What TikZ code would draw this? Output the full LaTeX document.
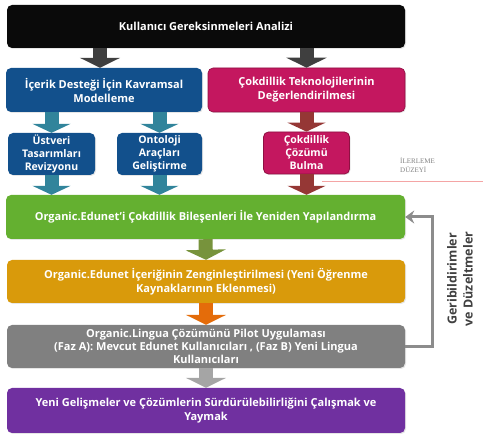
\documentclass[tikz,border=0pt]{standalone}
\usepackage{fontspec}
\setmainfont{Open Sans}
\newfontfamily\serifsmall{Liberation Serif}
\usetikzlibrary{arrows.meta,shadows}
\definecolor{cTop}{HTML}{0A0A0A}
\definecolor{cArrDark}{HTML}{3F3F3F}
\definecolor{cBlue}{HTML}{12508C}
\definecolor{cMag}{HTML}{C4175F}
\definecolor{cMagBd}{HTML}{8E1042}
\definecolor{cTeal}{HTML}{31849B}
\definecolor{cRedArr}{HTML}{953735}
\definecolor{cGreen}{HTML}{64B030}
\definecolor{cOlive}{HTML}{77933C}
\definecolor{cOrange}{HTML}{D99A0B}
\definecolor{cOrArr}{HTML}{E46C0A}
\definecolor{cGray}{HTML}{808080}
\definecolor{cGrayArr}{HTML}{A5A5A5}
\definecolor{cPurple}{HTML}{7030A0}
\definecolor{cFb}{HTML}{8C8C8C}
\definecolor{cLabel}{HTML}{404040}
\definecolor{cRedLine}{HTML}{F4A5A5}
\begin{document}
\begin{tikzpicture}[x=1pt,y=-1pt,
  box/.style={rectangle, rounded corners=5pt, text=white, align=center,
    inner sep=1pt, font=\fontsize{11}{14}\selectfont\bfseries,
    drop shadow={opacity=0.2, shadow xshift=1pt, shadow yshift=-1pt}},
  smallbox/.style={box, font=\fontsize{10.5}{13}\selectfont\bfseries},
  blk/.style={line width=14pt, -{Triangle[width=40pt,length=10pt]}},
  blksm/.style={line width=14pt, -{Triangle[width=38pt,length=9pt]}},
  tinytext/.style={text=gray, font=\serifsmall\fontsize{7}{8.5}\selectfont, inner sep=0pt, anchor=north west},
]
\useasboundingbox (0,0) rectangle (483,435);

% boxes
\node[box, fill=cTop, minimum width=398pt, minimum height=43pt] (top) at (206,26.5)
  {Kullanıcı Gereksinmeleri Analizi};
\node[box, fill=cBlue, minimum width=196pt, minimum height=44pt] (blue) at (104,90)
  {İçerik Desteği İçin Kavramsal\\Modelleme};
\node[box, fill=cMag, draw=cMagBd, line width=0.6pt, minimum width=197pt, minimum height=44pt] (mag) at (306.5,90)
  {Çokdillik Teknolojilerinin\\Değerlendirilmesi};
\node[smallbox, fill=cBlue, minimum width=87pt, minimum height=42pt] (ust) at (51.5,154)
  {Üstveri\\Tasarımları\\Revizyonu};
\node[smallbox, fill=cBlue, minimum width=85pt, minimum height=42pt] (ont) at (159.5,154)
  {Ontoloji\\Araçları\\Geliştirme};
\node[smallbox, fill=cMag, draw=cMagBd, line width=0.8pt, minimum width=86pt, minimum height=42pt] (cok) at (306.5,153)
  {Çokdillik\\Çözümü\\Bulma};
\node[box, fill=cGreen, minimum width=399pt, minimum height=44pt] (green) at (205.5,217)
  {Organic.Edunet’i Çokdillik Bileşenleri İle Yeniden Yapılandırma};
\node[box, fill=cOrange, minimum width=398pt, minimum height=43pt] (orange) at (206,281.5)
  {Organic.Edunet İçeriğinin Zenginleştirilmesi (Yeni Öğrenme\\Kaynaklarının Eklenmesi)};
\node[box, fill=cGray, minimum width=398pt, minimum height=43pt, font=\fontsize{11}{13}\selectfont\bfseries] (gray) at (206,346.5)
  {Organic.Lingua Çözümünü Pilot Uygulaması\\(Faz A): Mevcut Edunet Kullanıcıları , (Faz B) Yeni Lingua\\Kullanıcıları};
\node[box, fill=cPurple, minimum width=398pt, minimum height=45pt] (purple) at (206,410.5)
  {Yeni Gelişmeler ve Çözümlerin Sürdürülebilirliğini Çalışmak ve\\Yaymak};

% block arrows
\draw[blk, cArrDark] (top.south -| 100,0) -- (blue.north -| 100,0);
\draw[blk, cArrDark] (top.south -| mag.north) -- (mag.north);
\draw[blksm, cTeal] (blue.south -| ust.north) -- (ust.north);
\draw[blksm, cTeal] (blue.south -| ont.north) -- (ont.north);
\draw[blksm, cRedArr] (mag.south) -- (cok.north);
\draw[blksm, cTeal] (ust.south) -- (green.north -| ust.south);
\draw[blksm, cTeal] (ont.south) -- (green.north -| ont.south);
\draw[blksm, cRedArr] (cok.south) -- (green.north -| cok.south);
\draw[blk, cOlive] (green.south) -- (orange.north);
\draw[blk, cOrArr] (orange.south) -- (gray.north);
\draw[blk, cGrayArr] (gray.south) -- (purple.north);

% feedback loop
\coordinate (fbx) at (432,0);
\draw[cFb, line width=3pt, -{Stealth[length=9pt,width=13pt,inset=3pt]}]
  (gray.east) -- (gray.east -| fbx) -- (green.east -| fbx) -- (green.east);
\node[rotate=90, align=center, text=cLabel, font=\fontsize{12.5}{16}\selectfont\bfseries] (fblabel) at (460,279)
  {Geribildirimler\\ve Düzeltmeler};

% progress level mark
\node[tinytext] (ilerleme1) at (400,158) {İLERLEME};
\node[tinytext] (ilerleme2) at (400,166.5) {DÜZEYİ};
\coordinate (rl1) at (322,181);
\coordinate (rl2) at (483,181);
\draw[cRedLine, line width=0.8pt] (rl1) -- (rl2);
\end{tikzpicture}
\end{document}
